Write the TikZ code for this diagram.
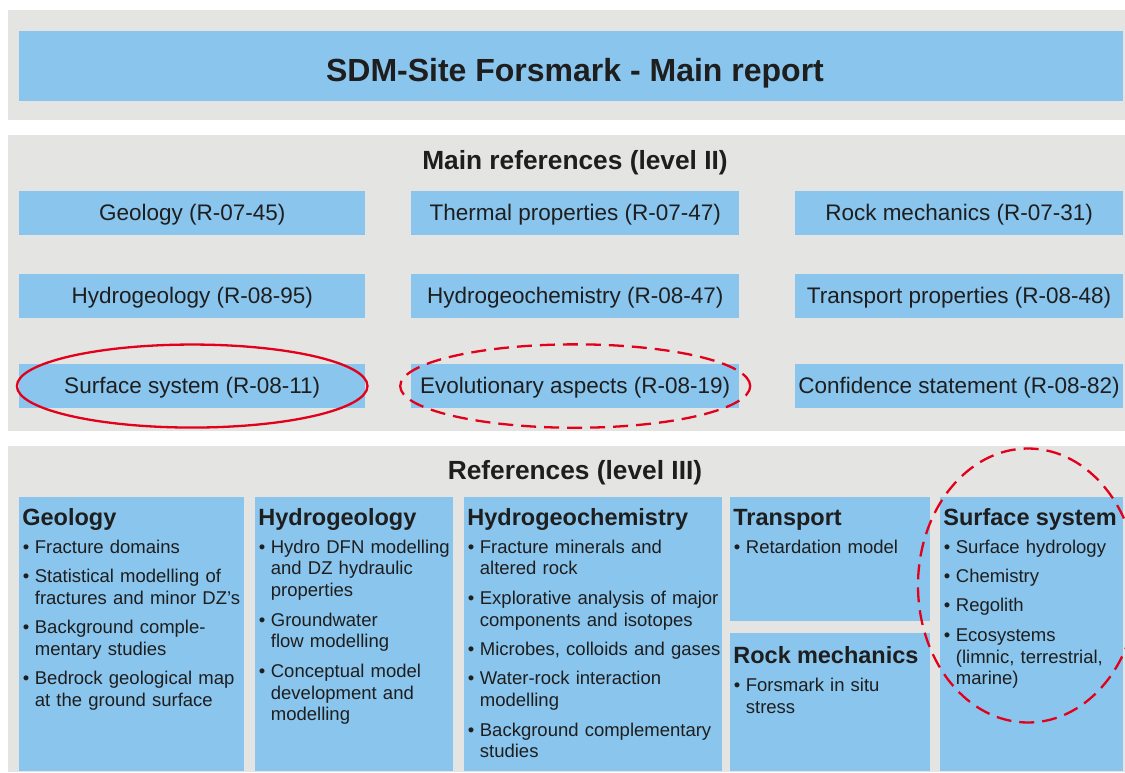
\documentclass[tikz,border=0pt]{standalone}
\usepackage{fontspec}
\setmainfont{Liberation Sans}
\usetikzlibrary{calc}

\definecolor{boxblue}{RGB}{137,197,237}
\definecolor{panelgray}{RGB}{228,228,226}
\definecolor{markred}{RGB}{226,0,26}
\definecolor{ink}{RGB}{30,30,30}

\setlength{\parskip}{0pt}
% topic heading and bullet items of the level III boxes
\newcommand{\hd}[1]{\noindent{\bfseries\fontsize{23.5}{23.5}\selectfont\rule{0pt}{18pt}#1\par}\vspace{-1.5pt}}
\newcommand{\itm}[1]{\par\vspace{7.6pt}\hangindent=12.5pt\hangafter=1\noindent
  \hspace*{0.5pt}\makebox[12pt][l]{\textbullet}#1\par}

\begin{document}
\begin{tikzpicture}[x=1pt,y=-1pt,
  panel/.style={fill=panelgray,draw=none},
  refbox/.style={fill=boxblue,inner sep=0pt,anchor=north west,text=ink,minimum height=43.7pt,
    text height=15.5pt,text depth=0pt,font=\fontsize{22.5}{27}\selectfont},
  topicbox/.style={fill=boxblue,inner sep=0pt,anchor=north west},
  topictext/.style={anchor=north west,inner sep=0pt,text width=300pt,text=ink,
    font=\fontsize{18.5}{21.8}\selectfont},
  heading/.style={anchor=base,text=ink,font=\bfseries\fontsize{26.3}{30}\selectfont},
  ring/.style={draw=markred,line width=2.3pt}]
\useasboundingbox (0,0) rectangle (1125,773);

% grey bands
\fill[panel] (8,10) rectangle (1125,120);
\fill[panel] (8,135) rectangle (1125,430.7);
\fill[panel] (8,446) rectangle (1125,772);

% main report
\node[topicbox,minimum width=1103.7pt,minimum height=70pt] (main) at (19,31) {};
\node[anchor=base,text=ink,font=\bfseries\fontsize{32}{38}\selectfont] (maintitle) at (575,81.7) {SDM-Site Forsmark - Main report};

% level II
\node[heading] (hdII) at (575,170) {Main references (level II)};
\node[refbox,minimum width=346pt] (geoII) at (19,191) {Geology (R-07-45)};
\node[refbox,minimum width=328pt] (thermII) at (411,191) {Thermal properties (R-07-47)};
\node[refbox,minimum width=327.7pt] (rockII) at (795,191) {Rock mechanics (R-07-31)};
\node[refbox,minimum width=346pt] (hydroII) at (19,274) {Hydrogeology (R-08-95)};
\node[refbox,minimum width=328pt] (chemII) at (411,274) {Hydrogeochemistry (R-08-47)};
\node[refbox,minimum width=327.7pt] (transII) at (795,274) {Transport properties (R-08-48)};
\node[refbox,minimum width=346pt] (surfII) at (19,364) {Surface system (R-08-11)};
\node[refbox,minimum width=328pt] (evolII) at (411,364) {Evolutionary aspects (R-08-19)};
\node[refbox,minimum width=327.7pt] (confII) at (795,364) {Confidence statement (R-08-82)};

% level III
\node[heading] (hdIII) at (575,479.3) {References (level III)};
\node[topicbox,minimum width=225pt,minimum height=273.5pt] (geoIII) at (19,497) {};
\node[topicbox,minimum width=198pt,minimum height=273.5pt] (hydroIII) at (255,497) {};
\node[topicbox,minimum width=258pt,minimum height=273.5pt] (chemIII) at (464,497) {};
\node[topicbox,minimum width=200pt,minimum height=123.7pt] (transIII) at (730,497) {};
\node[topicbox,minimum width=200pt,minimum height=137.8pt] (rockIII) at (730,632.7) {};
\node[topicbox,minimum width=183pt,minimum height=273.5pt] (surfIII) at (940,497) {};

\node[topictext] at ($(geoIII.north west)+(3.2,10)$) {\hd{Geology}
  \itm{Fracture domains}
  \itm{Statistical modelling of\newline fractures and minor DZ’s}
  \itm{Background comple-\newline mentary studies}
  \itm{Bedrock geological map\newline at the ground surface}};
\node[topictext] at ($(hydroIII.north west)+(3.2,10)$) {\hd{Hydrogeology}
  \itm{Hydro DFN modelling\newline and DZ hydraulic\newline properties}
  \itm{Groundwater\newline flow modelling}
  \itm{Conceptual model\newline development and\newline modelling}};
\node[topictext] at ($(chemIII.north west)+(3.2,10)$) {\hd{Hydrogeochemistry}
  \itm{Fracture minerals and\newline altered rock}
  \itm{Explorative analysis of major\newline components and isotopes}
  \itm{Microbes, colloids and gases}
  \itm{Water-rock interaction\newline modelling}
  \itm{Background complementary\newline studies}};
\node[topictext] at ($(transIII.north west)+(3.2,10)$) {\hd{Transport}
  \itm{Retardation model}};
\node[topictext] at ($(rockIII.north west)+(3.2,13)$) {\hd{Rock mechanics}
  \itm{Forsmark in situ\newline stress}};
\node[topictext] at ($(surfIII.north west)+(3.2,10)$) {\hd{Surface system}
  \itm{Surface hydrology}
  \itm{Chemistry}
  \itm{Regolith}
  \itm{Ecosystems\newline (limnic, terrestrial,\newline marine)}};

% red marks
\draw[ring] (surfII.center) ellipse [x radius=175.3pt,y radius=41.5pt];
\draw[ring,dash pattern=on 15pt off 8pt] (evolII.center) ellipse [x radius=175pt,y radius=41.7pt];
\coordinate (ssring) at (1028,585.5);
\draw[ring,dash pattern=on 15pt off 8pt] (ssring) ellipse [x radius=110pt,y radius=137pt];
\end{tikzpicture}
\end{document}
